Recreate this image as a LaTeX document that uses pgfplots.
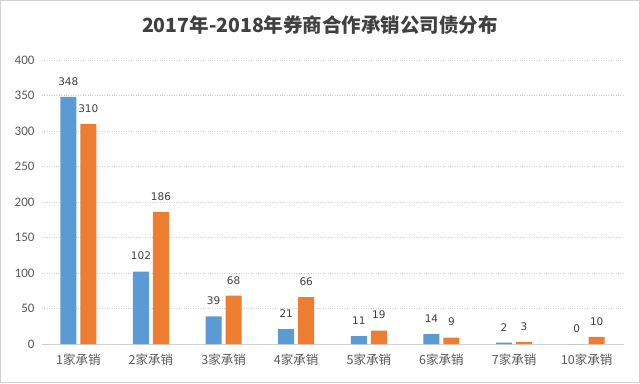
\documentclass[border=0pt]{standalone}
\usepackage{pgfplots}
\pgfplotsset{compat=1.18}
\usepackage{fontspec}
\setmainfont{Carlito}
\newfontfamily\cjk{Noto Sans CJK SC}
\newfontfamily\lab{DejaVu Sans}
\definecolor{cblue}{HTML}{5B9BD5}
\definecolor{corange}{HTML}{ED7D31}
\definecolor{tgray}{HTML}{595959}
\definecolor{ttl}{HTML}{404040}
\definecolor{gridc}{HTML}{D0D0D0}
\begin{document}
\begin{tikzpicture}[x=1pt,y=1pt]
\useasboundingbox (0,0) rectangle (640,383);
\draw[gridc] (0.5,0.5) rectangle (639.5,382.5);
\node[font=\cjk\bfseries\fontsize{19.5}{22}\selectfont, text=ttl] at (320,358) {2017年-2018年券商合作承销公司债分布};
\begin{axis}[
  at={(42pt,39pt)}, anchor=south west,
  scale only axis, width=581pt, height=284pt,
  ybar, bar width=16pt,
  xmin=-0.5, xmax=7.5, ymin=0, ymax=400,
  ytick={0,50,...,400},
  xtick={0,...,7},
  xticklabels={1家承销,2家承销,3家承销,4家承销,5家承销,6家承销,7家承销,10家承销},
  x tick label style={font=\cjk\fontsize{12.5}{14}\selectfont, text=tgray, yshift=-6pt},
  y tick label style={font=\fontsize{13}{15}\selectfont, text=tgray, xshift=-4pt},
  /pgf/number format/assume math mode=true,
  major tick length=0pt,
  axis x line*=bottom, axis y line*=left,
  x axis line style={draw=gridc, line width=0.8pt, -},
  y axis line style={draw=none},
  ymajorgrids, grid style={gridc, dotted, line width=0.9pt},
  nodes near coords,
  every node near coord/.append style={font=\lab\fontsize{10.5}{12}\selectfont, text=ttl, yshift=8pt},
  clip=false,
]
\addplot[fill=cblue, draw=none, bar shift=-10pt] coordinates {(0,348) (1,102) (2,39) (3,21) (4,11) (5,14) (6,2) (7,0)};
\addplot[fill=corange, draw=none, bar shift=10pt] coordinates {(0,310) (1,186) (2,68) (3,66) (4,19) (5,9) (6,3) (7,10)};
\end{axis}
\end{tikzpicture}
\end{document}
